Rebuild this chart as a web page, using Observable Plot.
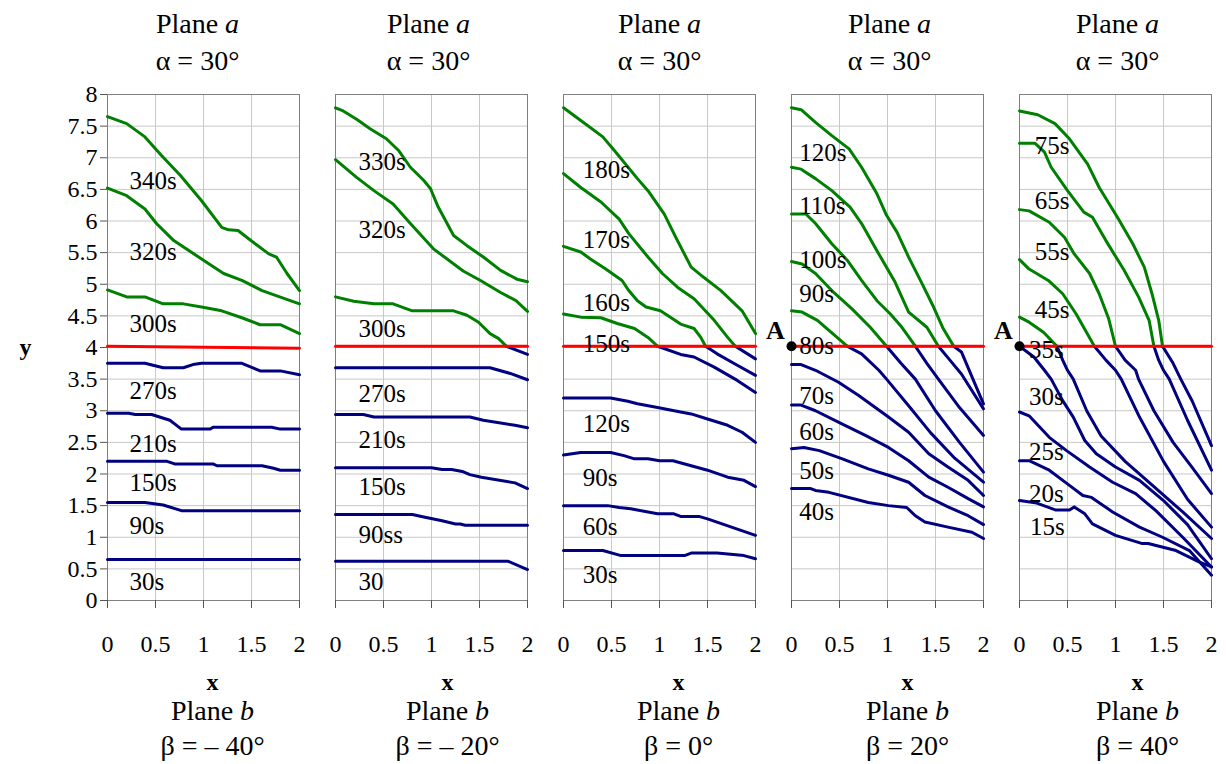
<!DOCTYPE html>
<html><head><meta charset="utf-8">
<script src="https://cdn.jsdelivr.net/npm/d3@7"></script>
<script src="https://cdn.jsdelivr.net/npm/@observablehq/plot@0.6"></script>
<style>
body{margin:0;background:#fff}
</style>
</head><body><div id="chart"></div>
<script>
// ---- data ----
const topTitle = "Plane a";
const alphaTitle = "α = 30°";
const bottomTitle = "Plane b";
const betaTitles = ["β = – 40°", "β = – 20°", "β = 0°", "β = 20°", "β = 40°"];
const xTicks = [0, 0.5, 1, 1.5, 2];
const yTicks = [0, 0.5, 1, 1.5, 2, 2.5, 3, 3.5, 4, 4.5, 5, 5.5, 6, 6.5, 7, 7.5, 8];
const threshold = 4.02;

const curvesM40 = [
  [[0,7.65],[0.2,7.54],[0.39,7.33],[0.56,7.04],[0.76,6.72],[0.98,6.32],[1.19,5.90],[1.26,5.86],[1.36,5.85],[1.47,5.72],[1.68,5.48],[1.76,5.43],[1.87,5.17],[2,4.90]],
  [[0,6.52],[0.2,6.40],[0.39,6.19],[0.51,5.96],[0.69,5.69],[0.98,5.40],[1.21,5.17],[1.40,5.06],[1.61,4.90],[2,4.69]],
  [[0,4.91],[0.2,4.80],[0.39,4.80],[0.58,4.69],[0.79,4.69],[0.98,4.64],[1.19,4.58],[1.40,4.47],[1.59,4.36],[1.80,4.36],[2,4.22]],
  [[0,3.75],[0.39,3.75],[0.58,3.68],[0.79,3.68],[0.89,3.73],[0.98,3.75],[1.40,3.75],[1.59,3.63],[1.80,3.63],[2,3.57]],
  [[0,2.96],[0.22,2.96],[0.29,2.94],[0.46,2.94],[0.65,2.85],[0.77,2.71],[1.07,2.71],[1.10,2.74],[1.71,2.74],[1.80,2.71],[2,2.71]],
  [[0,2.20],[0.62,2.20],[0.70,2.16],[1.10,2.16],[1.14,2.13],[1.61,2.13],[1.73,2.09],[1.80,2.06],[2,2.06]],
  [[0,1.55],[0.39,1.55],[0.58,1.51],[0.77,1.42],[2,1.42]],
  [[0,0.65],[2,0.65]]
];
const labelsM40 = [["340s",0.23,6.64],["320s",0.23,5.51],["300s",0.23,4.37],["270s",0.23,3.31],["210s",0.23,2.48],["150s",0.23,1.85],["90s",0.23,1.17],["30s",0.23,0.29]];

const curvesM20 = [
  [[0,7.79],[0.08,7.74],[0.22,7.61],[0.36,7.46],[0.53,7.30],[0.66,7.11],[0.78,6.85],[0.92,6.64],[0.99,6.51],[1.07,6.22],[1.23,5.77],[1.37,5.61],[1.54,5.43],[1.72,5.22],[1.89,5.08],[2,5.04]],
  [[0,6.97],[0.22,6.69],[0.40,6.48],[0.60,6.27],[0.78,5.96],[1.02,5.56],[1.33,5.21],[1.51,5.06],[1.72,4.87],[1.88,4.74],[2,4.57]],
  [[0,4.80],[0.19,4.73],[0.40,4.69],[0.60,4.69],[0.80,4.58],[1.23,4.58],[1.37,4.51],[1.49,4.40],[1.61,4.22],[1.70,4.14],[1.78,4.02],[2,3.89]],
  [[0,3.68],[1.61,3.68],[1.82,3.59],[2,3.49]],
  [[0,2.94],[0.29,2.94],[0.40,2.90],[1.40,2.90],[1.54,2.85],[1.87,2.77],[2,2.73]],
  [[0,2.10],[1.00,2.10],[1.11,2.07],[1.21,2.07],[1.32,2.04],[1.40,1.99],[1.52,1.95],[1.87,1.86],[2,1.77]],
  [[0,1.36],[0.80,1.36],[0.92,1.32],[1.11,1.26],[1.25,1.21],[1.30,1.21],[1.35,1.19],[2,1.19]],
  [[0,0.62],[1.80,0.62],[2,0.49]]
];
const labelsM20 = [["330s",0.24,6.93],["320s",0.24,5.86],["300s",0.24,4.30],["270s",0.24,3.26],["210s",0.24,2.53],["150s",0.24,1.79],["90ss",0.24,1.04],["30",0.24,0.29]];

const curves0 = [
  [[0,7.79],[0.18,7.59],[0.41,7.33],[0.56,7.06],[0.77,6.67],[0.88,6.48],[1.05,6.11],[1.17,5.74],[1.33,5.27],[1.46,5.11],[1.64,4.90],[1.86,4.58],[2,4.22]],
  [[0,6.75],[0.18,6.53],[0.39,6.30],[0.58,6.03],[0.68,5.80],[0.88,5.43],[1.03,5.17],[1.19,4.95],[1.36,4.77],[1.57,4.43],[1.71,4.16],[1.79,4.02],[2,3.82]],
  [[0,5.60],[0.18,5.51],[0.28,5.40],[0.44,5.24],[0.61,5.06],[0.68,4.90],[0.77,4.74],[0.86,4.64],[1.01,4.58],[1.22,4.37],[1.36,4.30],[1.43,4.16],[1.48,4.02],[1.60,3.90],[1.81,3.72],[2,3.56]],
  [[0,4.53],[0.18,4.48],[0.39,4.47],[0.56,4.38],[0.74,4.30],[0.88,4.16],[0.98,4.02],[1.22,3.89],[1.36,3.85],[1.57,3.69],[1.81,3.48],[2,3.29]],
  [[0,3.20],[0.49,3.20],[0.67,3.15],[0.77,3.11],[0.98,3.05],[1.22,2.98],[1.33,2.95],[1.50,2.87],[1.71,2.77],[1.86,2.66],[2,2.50]],
  [[0,2.30],[0.18,2.34],[0.49,2.34],[0.63,2.29],[0.74,2.24],[0.88,2.24],[1.00,2.21],[1.14,2.21],[1.33,2.13],[1.50,2.06],[1.71,1.95],[1.88,1.90],[2,1.80]],
  [[0,1.50],[0.46,1.50],[0.58,1.47],[0.70,1.45],[0.98,1.37],[1.15,1.37],[1.22,1.33],[1.41,1.33],[1.50,1.29],[2,1.03]],
  [[0,0.79],[0.41,0.79],[0.60,0.71],[1.26,0.71],[1.33,0.75],[1.60,0.75],[1.88,0.71],[2,0.66]]
];
const labels0 = [["180s",0.20,6.80],["170s",0.20,5.70],["160s",0.20,4.70],["150s",0.20,4.06],["120s",0.20,2.79],["90s",0.20,1.94],["60s",0.20,1.16],["30s",0.20,0.40]];

const curvesP20 = [
  [[0,7.79],[0.10,7.76],[0.25,7.56],[0.42,7.35],[0.60,7.14],[0.73,6.85],[0.89,6.43],[0.99,6.09],[1.10,5.82],[1.22,5.43],[1.36,5.01],[1.48,4.64],[1.58,4.30],[1.69,4.02],[1.77,3.93],[1.89,3.50],[2,3.11]],
  [[0,6.85],[0.10,6.82],[0.25,6.67],[0.42,6.48],[0.61,6.22],[0.73,5.96],[0.89,5.53],[1.08,5.03],[1.22,4.56],[1.41,4.32],[1.53,4.02],[1.65,3.80],[1.77,3.58],[2,3.03]],
  [[0,6.11],[0.15,6.11],[0.25,5.96],[0.42,5.64],[0.58,5.38],[0.73,5.06],[0.89,4.74],[1.03,4.53],[1.15,4.32],[1.29,4.02],[1.41,3.75],[1.53,3.50],[1.75,3.05],[2,2.61]],
  [[0,5.36],[0.11,5.32],[0.25,5.17],[0.44,4.87],[0.63,4.61],[0.82,4.32],[0.99,4.02],[1.14,3.75],[1.29,3.50],[1.50,3.00],[1.75,2.50],[2,2.03]],
  [[0,4.58],[0.11,4.56],[0.27,4.43],[0.39,4.27],[0.58,4.02],[0.73,3.90],[0.91,3.64],[0.99,3.50],[1.22,3.08],[1.45,2.65],[1.70,2.25],[2,1.87]],
  [[0,3.73],[0.10,3.73],[0.25,3.64],[0.49,3.45],[0.70,3.24],[1.01,2.90],[1.22,2.66],[1.43,2.32],[1.63,2.11],[1.84,1.90],[2,1.66]],
  [[0,3.09],[0.10,3.09],[0.25,3.00],[0.53,2.79],[0.77,2.61],[1.01,2.42],[1.22,2.21],[1.43,1.95],[1.63,1.79],[1.84,1.61],[2,1.48]],
  [[0,2.40],[0.13,2.42],[0.29,2.37],[0.53,2.24],[0.80,2.08],[1.01,1.98],[1.22,1.87],[1.39,1.66],[1.63,1.48],[1.84,1.34],[2,1.20]],
  [[0,1.77],[0.20,1.77],[0.25,1.74],[0.39,1.71],[0.80,1.55],[1.01,1.50],[1.20,1.47],[1.29,1.34],[1.39,1.24],[1.63,1.16],[1.88,1.08],[2,0.98]]
];
const labelsP20 = [["120s",0.08,7.07],["110s",0.08,6.23],["100s",0.08,5.39],["90s",0.08,4.85],["80s",0.08,4.03],["70s",0.08,3.24],["60s",0.08,2.66],["50s",0.08,2.04],["40s",0.08,1.40]];

const curvesP40 = [
  [[0,7.74],[0.19,7.68],[0.37,7.54],[0.52,7.30],[0.71,6.90],[0.83,6.53],[1.02,6.06],[1.18,5.64],[1.30,5.27],[1.38,4.85],[1.45,4.43],[1.49,4.02],[1.60,3.75],[1.68,3.50],[1.80,3.15],[2,2.45]],
  [[0,7.23],[0.16,7.23],[0.26,7.09],[0.33,6.85],[0.50,6.48],[0.67,6.14],[0.76,6.06],[0.90,5.69],[1.09,5.22],[1.24,4.80],[1.35,4.43],[1.40,4.02],[1.45,3.80],[1.50,3.64],[1.56,3.50],[1.75,2.85],[2,2.06]],
  [[0,6.18],[0.10,6.16],[0.31,5.98],[0.47,5.74],[0.57,5.48],[0.73,5.17],[0.83,4.85],[0.93,4.45],[1.00,4.02],[1.10,3.80],[1.21,3.64],[1.24,3.50],[1.40,3.00],[1.60,2.50],[1.80,2.10],[2,1.69]],
  [[0,5.39],[0.10,5.24],[0.30,5.06],[0.45,4.85],[0.59,4.53],[0.78,4.02],[0.90,3.80],[1.00,3.64],[1.06,3.50],[1.25,2.90],[1.50,2.20],[1.75,1.60],[2,1.16]],
  [[0,4.48],[0.10,4.40],[0.25,4.24],[0.39,4.02],[0.45,3.80],[0.50,3.64],[0.56,3.50],[0.70,3.00],[0.85,2.60],[1.10,2.20],[1.40,1.80],[1.70,1.40],[2,0.98]],
  [[0,4.02],[0.15,3.85],[0.26,3.64],[0.33,3.50],[0.45,3.16],[0.56,2.90],[0.68,2.53],[0.80,2.32],[1.00,2.11],[1.25,1.90],[1.50,1.58],[1.75,1.20],[2,0.66]],
  [[0,2.98],[0.10,2.92],[0.31,2.58],[0.49,2.37],[0.73,2.11],[0.97,1.87],[1.21,1.69],[1.42,1.42],[1.70,1.00],[2,0.53]],
  [[0,2.21],[0.10,2.21],[0.31,2.06],[0.52,1.82],[0.66,1.66],[0.75,1.63],[0.97,1.40],[1.25,1.16],[1.49,1.00],[1.77,0.79],[2,0.40]],
  [[0,1.58],[0.18,1.54],[0.38,1.43],[0.52,1.43],[0.57,1.48],[0.68,1.37],[0.76,1.21],[1.00,1.03],[1.28,0.90],[1.34,0.90],[1.63,0.79],[1.87,0.61],[2,0.53]]
];
const labelsP40 = [["75s",0.16,7.19],["65s",0.16,6.32],["55s",0.16,5.51],["45s",0.16,4.60],["35s",0.10,3.96],["30s",0.10,3.21],["25s",0.10,2.35],["20s",0.10,1.69],["15s",0.11,1.16]];

const redLines = [
  [[0,4.02],[2,3.99]], [[0,4.02],[2,4.02]], [[0,4.02],[2,4.02]], [[0,4.02],[2,4.02]], [[0,4.02],[2,4.02]]
];
const pointA = [[3,0,4.02],[4,0,4.02]]; // panel, x, y

// ---- layout / style ----
const serif = "Liberation Serif";
const green = "#008000", blue = "#000080", red = "#ff0000";
const topDx = [-6,-3,0,2,2];
const bottomDx = [9,16,19,20,22];

const panels = [curvesM40, curvesM20, curves0, curvesP20, curvesP40];
const panelLabels = [labelsM40, labelsM20, labels0, labelsP20, labelsP40];

const lineRows = [];
panels.forEach((curves, p) => curves.forEach((pts, c) => {
  pts.filter(d => d[1] >= threshold - 1e-9).forEach(d => lineRows.push({p, id: `${p}-${c}-g`, stroke: green, x: d[0], y: d[1]}));
  pts.filter(d => d[1] <= threshold + 1e-9).forEach(d => lineRows.push({p, id: `${p}-${c}-b`, stroke: blue, x: d[0], y: d[1]}));
}));
const redRows = redLines.flatMap((pts, p) => pts.map(d => ({p, x: d[0], y: d[1]})));
const labelRows = panelLabels.flatMap((ls, p) => ls.map(d => ({p, text: d[0], x: d[1], y: d[2]})));
const aRows = pointA.map(d => ({p: d[0], x: d[1], y: d[2]}));

const titleMarks = [];
const tOpt = {lineAnchor: "middle", fontFamily: serif};
betaTitles.forEach((b, p) => {
  titleMarks.push(Plot.text([p], {...tOpt, fx: d => d, frameAnchor: "top", text: () => topTitle, dy: -70, dx: topDx[p], fontSize: 28}));
  titleMarks.push(Plot.text([p], {...tOpt, fx: d => d, frameAnchor: "top", text: () => alphaTitle, dy: -33, dx: topDx[p], fontSize: 28}));
  titleMarks.push(Plot.text([p], {...tOpt, fx: d => d, frameAnchor: "bottom", text: () => "x", dy: 82, dx: bottomDx[p], fontSize: 24, fontWeight: "bold"}));
  titleMarks.push(Plot.text([p], {...tOpt, fx: d => d, frameAnchor: "bottom", text: () => bottomTitle, dy: 111, dx: bottomDx[p], fontSize: 28}));
  titleMarks.push(Plot.text([p], {...tOpt, fx: d => d, frameAnchor: "bottom", text: () => b, dy: 146, dx: bottomDx[p], fontSize: 28}));
});

const chart = Plot.plot({
  width: 1226,
  height: 764,
  marginLeft: 106,
  marginRight: 15,
  marginTop: 94,
  marginBottom: 164,
  style: {fontFamily: serif, background: "#fff", color: "#000"},
  fx: {domain: [0,1,2,3,4], paddingInner: 0.159, paddingOuter: 0, axis: null, label: null},
  x: {domain: [0, 2], label: null},
  y: {domain: [0, 8], label: null},
  marks: [
    Plot.gridY(yTicks, {stroke: "#c8c8c8", strokeOpacity: 1}),
    Plot.gridX(xTicks, {stroke: "#c8c8c8", strokeOpacity: 1}),
    Plot.frame({stroke: "#808080"}),
    Plot.axisY(yTicks, {tickSize: 7, tickPadding: 3, fontSize: 24, fontFamily: serif, stroke: "#555", fill: "#000", tickFormat: d => String(d), label: null}),
    Plot.axisX(xTicks, {tickSize: 8, tickPadding: 26, fontSize: 24, fontFamily: serif, stroke: "#555", fill: "#000", tickFormat: d => String(d), label: null}),
    Plot.line(lineRows, {x: "x", y: "y", z: "id", fx: "p", stroke: "stroke", strokeWidth: 3, strokeLinejoin: "round"}),
    Plot.line(redRows, {x: "x", y: "y", z: "p", fx: "p", stroke: red, strokeWidth: 3}),
    Plot.text(labelRows, {x: "x", y: "y", fx: "p", text: "text", textAnchor: "start", fontSize: 25, fontFamily: serif, fill: "#000"}),
    Plot.dot(aRows, {x: "x", y: "y", fx: "p", r: 5, fill: "#000"}),
    Plot.text(aRows, {x: "x", y: "y", fx: "p", text: () => "A", dx: -16, dy: -16, fontSize: 26, fontWeight: "bold", fontFamily: serif}),
    Plot.text([{p: 0, y: 4}], {fx: "p", y: "y", frameAnchor: "left", lineAnchor: "middle", text: () => "y", dx: -88, fontSize: 24, fontWeight: "bold", fontFamily: serif}),
    ...titleMarks
  ]
});
document.getElementById("chart").appendChild(chart);
// italicize the plane letters
chart.querySelectorAll("text").forEach(t => {
  const s = t.textContent;
  if (s === "Plane a" || s === "Plane b") {
    t.innerHTML = `Plane <tspan font-style="italic">${s.slice(-1)}</tspan>`;
  }
});
</script>
</body></html>
